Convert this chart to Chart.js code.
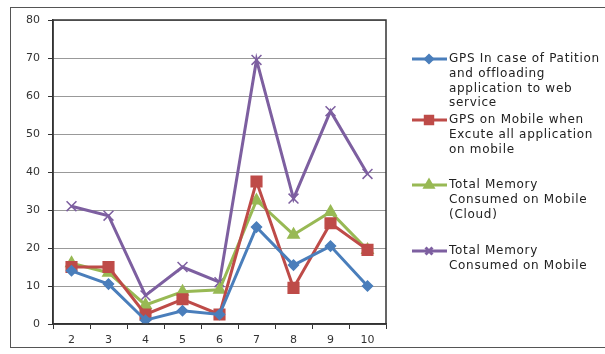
<!DOCTYPE html>
<html>
<head>
<meta charset="utf-8">
<script src="https://cdn.jsdelivr.net/npm/chart.js@4"></script>
<style>
  html, body { margin: 0; padding: 0; background: #fff; }
  #wrap { width: 605px; height: 354px; position: relative; }
</style>
</head>
<body>
<div id="wrap"><canvas id="chart"></canvas></div>
<script>
// data
const categories = ['2', '3', '4', '5', '6', '7', '8', '9', '10'];
const gpsPartition = [14, 10.5, 1, 3.5, 2.5, 25.5, 15.5, 20.5, 10];
const gpsMobile = [15, 15, 2.5, 6.5, 2.5, 37.5, 9.5, 26.5, 19.5];
const memCloud = [16, 13.5, 5, 8.5, 9, 32.5, 23.5, 29.5, 19.5];
const memMobile = [31, 28.5, 7.5, 15, 11, 69.5, 33, 56, 39.5];
const yTicks = [0, 10, 20, 30, 40, 50, 60, 70, 80];

const legendLines = [
    ['GPS In case of Patition', 'and offloading', 'application to web', 'service'],
    ['GPS on Mobile when', 'Excute all application', 'on mobile'],
    ['Total Memory', 'Consumed on Mobile', '(Cloud)'],
    ['Total Memory', 'Consumed on Mobile']
];
const legendTop = [59, 120, 185, 251];

const frame = {
    id: 'frame',
    beforeDraw(chart) {
        const c = chart.ctx;
        c.save();
        c.fillStyle = '#fff';
        c.fillRect(0, 0, chart.width, chart.height);
        c.strokeStyle = '#555';
        c.lineWidth = 1;
        c.strokeRect(10.5, 7.5, 620, 340);
        c.restore();
    },
    afterDraw(chart) {
        const c = chart.ctx;
        const a = chart.chartArea;
        c.save();
        c.strokeStyle = '#333';
        c.lineWidth = 1.5;
        c.strokeRect(a.left, a.top, a.right - a.left, a.bottom - a.top);

        // legend
        c.font = '12px "DejaVu Sans"';
        c.letterSpacing = '0.7px';
        c.textBaseline = 'middle';
        chart.data.datasets.forEach((ds, i) => {
            const y = legendTop[i];
            c.strokeStyle = ds.borderColor;
            c.lineWidth = 3;
            c.beginPath();
            c.moveTo(412, y);
            c.lineTo(447, y);
            c.stroke();
            c.fillStyle = ds.pointBackgroundColor;
            Chart.helpers.drawPoint(c, {
                pointStyle: ds.pointStyle,
                radius: ds.pointRadius * 0.7,
                borderWidth: 1.5
            }, 429, y);
            c.fillStyle = '#222';
            legendLines[i].forEach((t, k) => c.fillText(t, 449, y + k * 14.7));
        });
        c.restore();
    }
};

function series(label, data, color, style, r) {
    return {
        label: label,
        data: data,
        borderColor: color,
        backgroundColor: color,
        pointBackgroundColor: color,
        pointBorderColor: color,
        borderWidth: 3,
        pointStyle: style,
        pointRadius: r,
        pointBorderWidth: 1.5,
        tension: 0
    };
}

new Chart(document.getElementById('chart'), {
    type: 'line',
    data: {
        labels: categories,
        datasets: [
            series('GPS In case of Patition and offloading application to web service', gpsPartition, '#4A7EBB', 'rectRot', 5),
            series('GPS on Mobile when Excute all application on mobile', gpsMobile, '#BE4B48', 'rect', 7.5),
            series('Total Memory Consumed on Mobile (Cloud)', memCloud, '#98B954', 'triangle', 6.5),
            series('Total Memory Consumed on Mobile', memMobile, '#7D5FA0', 'crossRot', 7)
        ]
    },
    options: {
        responsive: true,
        maintainAspectRatio: false,
        animation: false,
        layout: { padding: { top: 20, right: 219, bottom: 0, left: 0 } },
        plugins: {
            legend: { display: false },
            tooltip: { enabled: false }
        },
        scales: {
            x: {
                offset: true,
                grid: { drawOnChartArea: false, offset: true, tickLength: 5, color: '#333' },
                border: { color: '#333', width: 1.5 },
                ticks: { color: '#333', font: { family: 'DejaVu Sans', size: 11 }, padding: 5 },
                afterFit: (s) => { s.height = 30; }
            },
            y: {
                min: 0,
                max: 80,
                afterBuildTicks: (s) => { s.ticks = yTicks.map(v => ({ value: v })); },
                grid: { color: '#999', tickLength: 5, tickColor: '#333' },
                border: { color: '#333', width: 1.5 },
                ticks: { color: '#333', font: { family: 'DejaVu Sans', size: 11 }, padding: 8 },
                afterFit: (s) => { s.width = 53; }
            }
        }
    },
    plugins: [frame]
});
</script>
</body>
</html>
